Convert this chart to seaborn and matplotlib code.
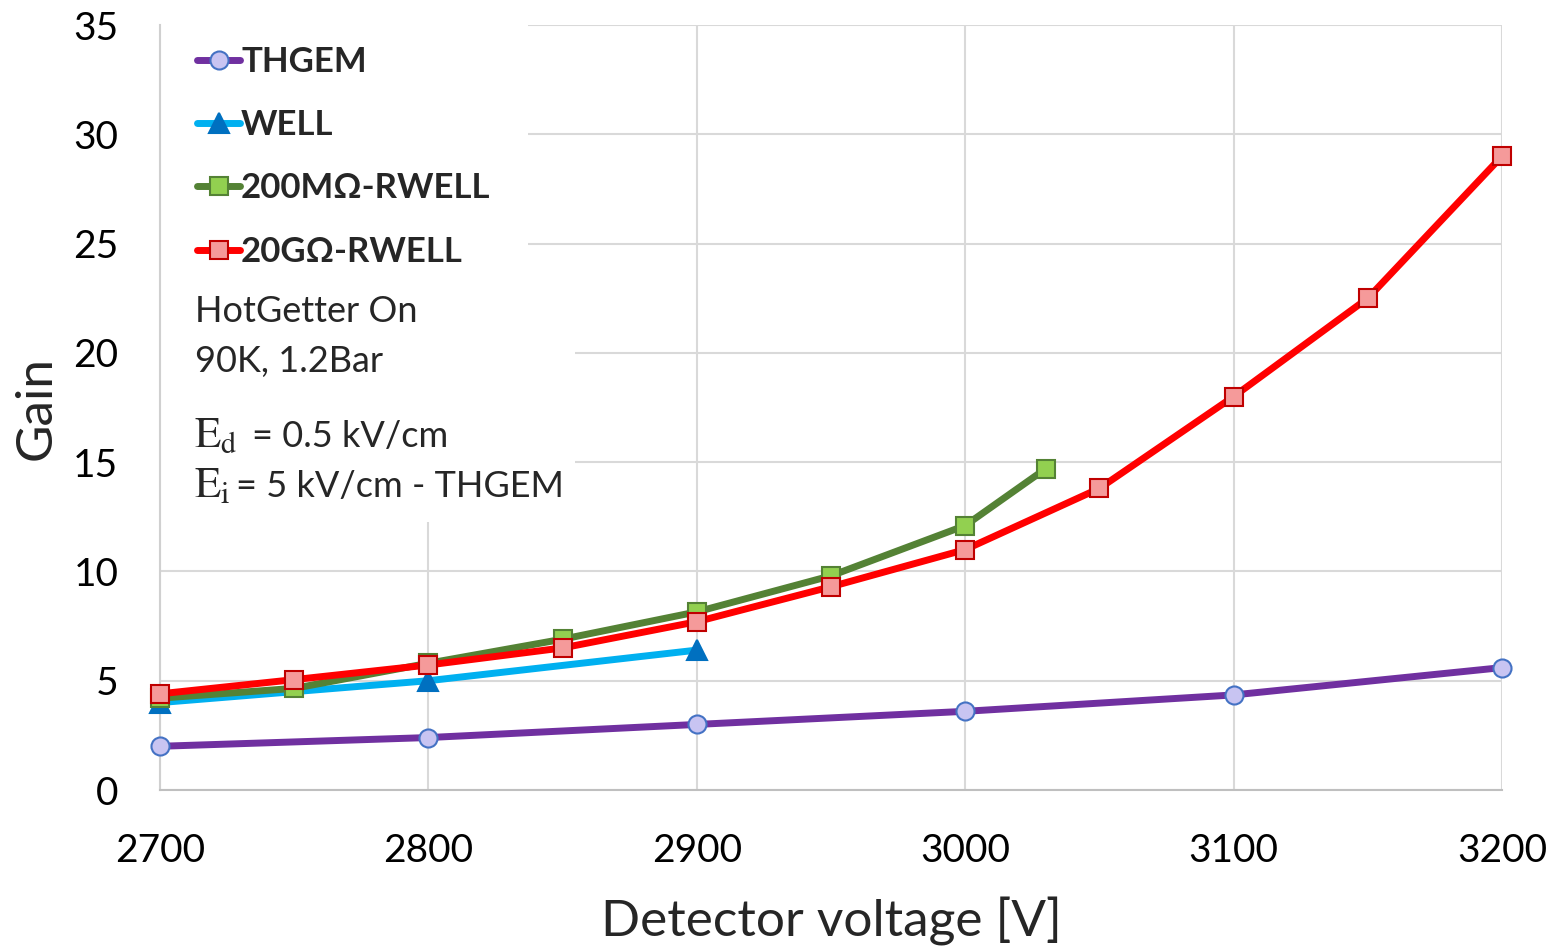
import matplotlib
matplotlib.use("Agg")
import matplotlib.pyplot as plt
from matplotlib.lines import Line2D
from matplotlib.patches import Rectangle
import seaborn as sns
import pandas as pd

# Gain versus detector voltage for four amplification structures
thgem_v = [2700, 2800, 2900, 3000, 3100, 3200]
thgem_gain = [2.0, 2.4, 3.0, 3.6, 4.35, 5.6]

well_v = [2700, 2800, 2900]
well_gain = [4.0, 5.0, 6.4]

rwell200m_v = [2700, 2750, 2800, 2850, 2900, 2950, 3000, 3030]
rwell200m_gain = [4.2, 4.65, 5.8, 6.9, 8.15, 9.8, 12.1, 14.7]

rwell20g_v = [2700, 2750, 2800, 2850, 2900, 2950, 3000, 3050, 3100, 3150, 3200]
rwell20g_gain = [4.4, 5.05, 5.72, 6.5, 7.7, 9.3, 11.0, 13.8, 18.0, 22.5, 29.0]

series_names = ["THGEM", "WELL", "200MΩ-RWELL", "20GΩ-RWELL"]
x_ticks = [2700, 2800, 2900, 3000, 3100, 3200]
y_ticks = [0, 5, 10, 15, 20, 25, 30, 35]

sns.set_theme(style="whitegrid")
plt.rcParams["font.family"] = ["Lato", "DejaVu Sans"]
plt.rcParams["mathtext.fontset"] = "stix"

frames = []
for name, v, g in [
    (series_names[0], thgem_v, thgem_gain),
    (series_names[1], well_v, well_gain),
    (series_names[2], rwell200m_v, rwell200m_gain),
    (series_names[3], rwell20g_v, rwell20g_gain),
]:
    frames.append(pd.DataFrame({"voltage": v, "gain": g, "detector": name}))
df = pd.concat(frames, ignore_index=True)

styles = {
    "THGEM": dict(color="#7030A0", marker="o", mfc="#C8C4F2", mec="#4472C4", ms=13),
    "WELL": dict(color="#00B0F0", marker="^", mfc="#0070C0", mec="#0070C0", ms=14),
    "200MΩ-RWELL": dict(color="#548235", marker="s", mfc="#92D050", mec="#548235", ms=13),
    "20GΩ-RWELL": dict(color="#FF0000", marker="s", mfc="#F59A9A", mec="#C00000", ms=13),
}

W, H = 1550, 946
fig = plt.figure(figsize=(W / 100, H / 100), dpi=100)
ax = fig.add_axes([160 / W, 1 - 790 / H, (1502 - 160) / W, (790 - 25) / H])


def ax_frac(px, py):
    """Convert a pixel position (from the top-left of the figure) to axes fraction."""
    return (px - 160) / (1502 - 160), (790 - py) / (790 - 25)


for name in series_names:
    st = styles[name]
    sub = df[df["detector"] == name]
    sns.lineplot(
        data=sub, x="voltage", y="gain", ax=ax, color=st["color"], lw=5,
        marker=st["marker"], markersize=st["ms"], markerfacecolor=st["mfc"],
        markeredgecolor=st["mec"], markeredgewidth=1.5, legend=False,
        solid_joinstyle="round", zorder=3, clip_on=False,
    )

ax.set_xlim(2700, 3200)
ax.set_ylim(0, 35)
ax.set_xticks(x_ticks)
ax.set_yticks(y_ticks)
ax.grid(True, color="#D9D9D9", lw=1.5)
ax.set_axisbelow(True)
for side in ["top", "right"]:
    ax.spines[side].set_visible(False)
ax.spines["left"].set_color("#D0D0D0")
ax.spines["bottom"].set_color("#BFBFBF")
ax.spines["left"].set_linewidth(1.5)
ax.spines["bottom"].set_linewidth(1.5)
ax.tick_params(axis="both", length=0, labelsize=28, colors="black")
ax.tick_params(axis="y", pad=30)
ax.tick_params(axis="x", pad=31)
ax.set_xlabel("Detector voltage [V]", fontsize=37, labelpad=20)
ax.set_ylabel("Gain", fontsize=37, labelpad=10)

# white panels behind the legend and the run conditions
x0, y0 = ax_frac(160, 260)
x1, _ = ax_frac(528, 260)
ax.add_patch(Rectangle((x0, y0), x1 - x0, 1 - y0, transform=ax.transAxes,
                       facecolor="white", edgecolor="none", zorder=1.5))
_, y2 = ax_frac(160, 522)
x3, _ = ax_frac(575, 522)
ax.add_patch(Rectangle((x0, y2), x3 - x0, y0 - y2, transform=ax.transAxes,
                       facecolor="white", edgecolor="none", zorder=1.5))

handles = []
for name in series_names:
    st = styles[name]
    handles.append(Line2D([], [], color=st["color"], lw=5, marker=st["marker"],
                          markersize=st["ms"], markerfacecolor=st["mfc"],
                          markeredgecolor=st["mec"], markeredgewidth=1.5))
leg = ax.legend(handles, series_names, loc="upper left",
                bbox_to_anchor=ax_frac(197, 46), frameon=False,
                prop={"family": "Lato", "weight": "bold", "size": 25},
                handlelength=1.25, handletextpad=0.02, labelspacing=0.9,
                borderpad=0.0, borderaxespad=0.0)
leg.set_zorder(4)

txt_kw = dict(transform=ax.transAxes, fontsize=26, va="baseline", ha="left", zorder=4)
ax.text(*ax_frac(195, 322), "HotGetter On", **txt_kw)
ax.text(*ax_frac(195, 372), "90K, 1.2Bar", **txt_kw)

math_kw = dict(transform=ax.transAxes, fontsize=31, va="baseline", ha="left", zorder=4)
ed_base, ei_base = 447, 497
ed = ax.text(*ax_frac(194, ed_base), "$\\mathrm{E_d}$", **math_kw)
ei = ax.text(*ax_frac(194, ei_base), "$\\mathrm{E_i}$", **math_kw)

fig.canvas.draw()
renderer = fig.canvas.get_renderer()
inv = ax.transAxes.inverted()
ed_x1 = inv.transform(ed.get_window_extent(renderer).get_points())[1][0]
ei_x1 = inv.transform(ei.get_window_extent(renderer).get_points())[1][0]
gap = 14 / (1502 - 160)
small_gap = 5 / (1502 - 160)
ax.text(ed_x1 + gap, ax_frac(0, ed_base)[1], "= 0.5 kV/cm", **txt_kw)
ax.text(ei_x1 + small_gap, ax_frac(0, ei_base)[1], "= 5 kV/cm - THGEM", **txt_kw)

fig.savefig("out.png", dpi=100, facecolor="white")
